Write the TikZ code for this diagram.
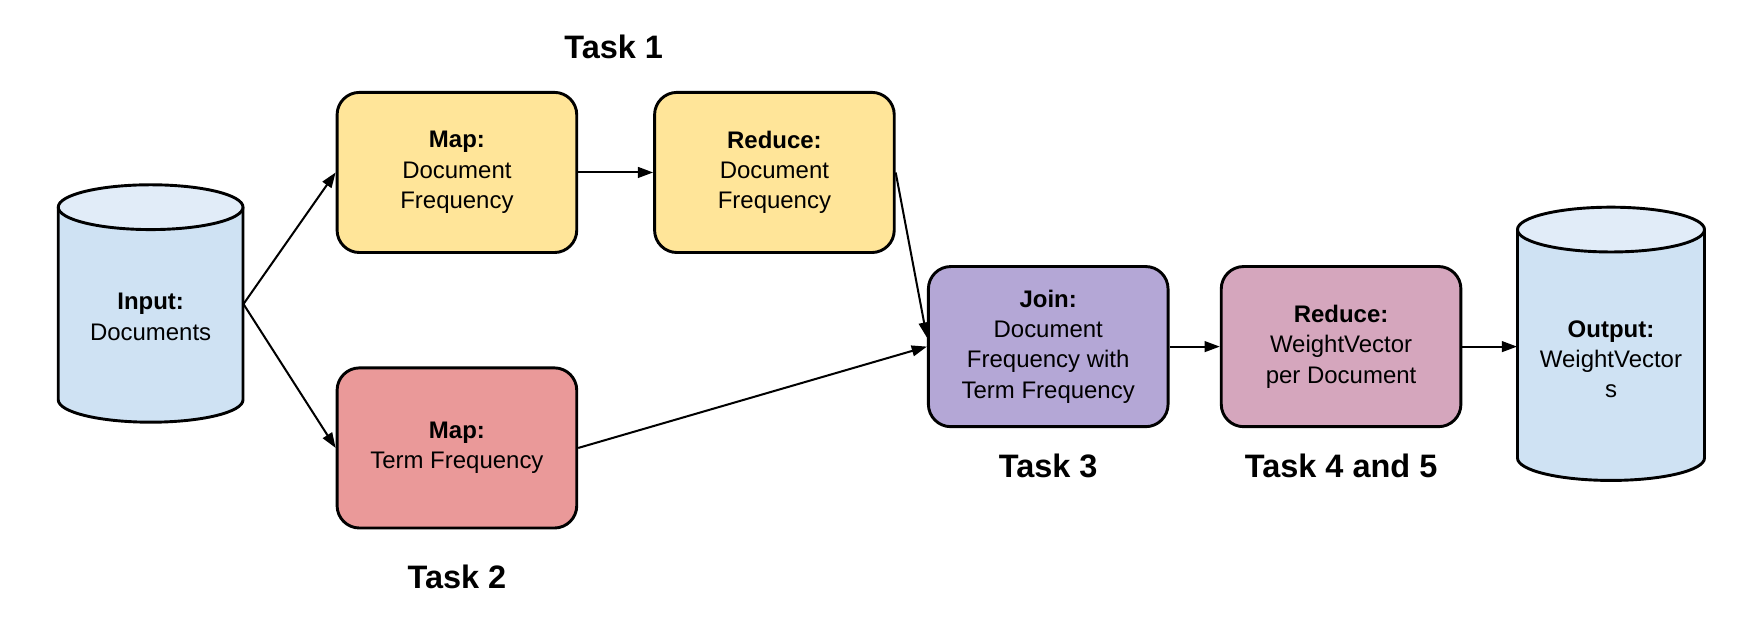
\documentclass[tikz,border=0pt]{standalone}
\usepackage{fontspec}
\setmainfont{Liberation Sans}
\usetikzlibrary{arrows.meta}
\definecolor{mapyellow}{HTML}{FFE599}
\definecolor{mapred}{HTML}{EA9999}
\definecolor{joinpurple}{HTML}{B4A7D6}
\definecolor{redmagenta}{HTML}{D5A6BD}
\definecolor{cylbody}{HTML}{CFE2F3}
\definecolor{cyltop}{HTML}{E1ECF8}
\begin{document}
\begin{tikzpicture}[x=0.5pt,y=0.5pt,>={Triangle[length=6.8pt,width=4.8pt]},line join=round,
	box/.style={draw,line width=1.3pt,rounded corners=10pt,minimum width=107pt,minimum height=71.5pt,align=center,inner sep=0pt,font=\fontsize{10.7}{13.5}\selectfont},
	txt/.style={align=center,font=\fontsize{10.7}{13.5}\selectfont},
	task/.style={font=\fontsize{14.5}{17}\selectfont\bfseries},
	flow/.style={->,line width=0.9pt}]
	\useasboundingbox (0,0) rectangle (1568,563);
	% input cylinder
	\fill[cylbody] (52,378)--(52,206) arc[start angle=180,end angle=360,x radius=82.5,y radius=20]--(217,378)--cycle;
	\draw[line width=1.3pt] (52,378)--(52,206) arc[start angle=180,end angle=360,x radius=82.5,y radius=20]--(217,378);
	\draw[line width=1.3pt,fill=cyltop] (134.5,378) ellipse[x radius=82.5,y radius=20];
	\node[minimum width=82.5pt,minimum height=106.5pt,inner sep=0pt] (input) at (134.5,291.5) {};
	\node[txt] (inputtxt) at (134.5,280) {\textbf{Input:}\\Documents};
	% output cylinder
	\fill[cylbody] (1355,358)--(1355,154) arc[start angle=180,end angle=360,x radius=83.5,y radius=20]--(1522,358)--cycle;
	\draw[line width=1.3pt] (1355,358)--(1355,154) arc[start angle=180,end angle=360,x radius=83.5,y radius=20]--(1522,358);
	\draw[line width=1.3pt,fill=cyltop] (1438.5,358) ellipse[x radius=83.5,y radius=20];
	\node[minimum width=83.5pt,minimum height=122.5pt,inner sep=0pt] (output) at (1438.5,253.5) {};
	\node[txt] (outputtxt) at (1438.5,242) {\textbf{Output:}\\WeightVector\\s};
	% boxes
	\node[box,fill=mapyellow] (mapdf) at (408,409) {\textbf{Map:}\\Document\\Frequency};
	\node[box,fill=mapyellow] (reducedf) at (691.5,409) {\textbf{Reduce:}\\Document\\Frequency};
	\node[box,fill=mapred] (maptf) at (408,163) {\textbf{Map:}\\Term Frequency};
	\node[box,fill=joinpurple] (join) at (936,253.5) {\textbf{Join:}\\Document\\Frequency with\\Term Frequency};
	\node[box,fill=redmagenta] (reducewv) at (1197.5,253.5) {\textbf{Reduce:}\\WeightVector\\per Document};
	% task labels
	\node[task] (task1) at (548,521) {Task 1};
	\node[task] (task2) at (408,48) {Task 2};
	\node[task] (task3) at (936,147) {Task 3};
	\node[task] (task45) at (1197.5,147) {Task 4 and 5};
	% arrows
	\draw[flow] (input.east)--(mapdf.west);
	\draw[flow] (input.east)--(maptf.west);
	\draw[flow] (mapdf.east)--(reducedf.west);
	\draw[flow] (reducedf.east)--([yshift=4pt]join.west);
	\draw[flow] (maptf.east)--(join.west);
	\draw[flow] (join.east)--(reducewv.west);
	\draw[flow] (reducewv.east)--(output.west);
\end{tikzpicture}
\end{document}
